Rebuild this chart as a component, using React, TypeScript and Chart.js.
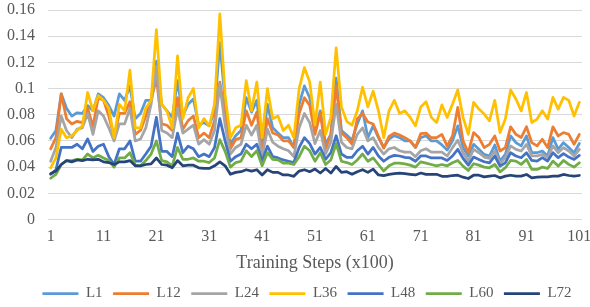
import React, { useEffect, useRef } from 'react';
import { Chart, registerables } from 'chart.js';

Chart.register(...registerables);

const steps: string[] = Array.from({ length: 101 }, (_, i) => String(i + 1));
const xTickLabels = ['1', '11', '21', '31', '41', '51', '61', '71', '81', '91', '101'];
const seriesNames = ['L1', 'L12', 'L24', 'L36', 'L48', 'L60', 'L72'];
const seriesColors = ['#5B9BD5', '#ED7D31', '#A5A5A5', '#FFC000', '#4472C4', '#70AD47', '#264478'];

const L1 = [
  0.062, 0.068, 0.096, 0.085, 0.079, 0.0815, 0.081, 0.087, 0.083, 0.096,
  0.093, 0.087, 0.079, 0.096, 0.091, 0.102, 0.077, 0.081, 0.091, 0.091,
  0.121, 0.088, 0.083, 0.078, 0.106, 0.079, 0.088, 0.092, 0.072, 0.074,
  0.0715, 0.083, 0.135, 0.09, 0.0575, 0.064, 0.068, 0.093, 0.082, 0.091,
  0.055, 0.088, 0.07, 0.066, 0.0625, 0.0625, 0.055, 0.088, 0.102, 0.093,
  0.068, 0.083, 0.0575, 0.065, 0.108, 0.068, 0.0645, 0.0605, 0.073, 0.083,
  0.0625, 0.0715, 0.0625, 0.055, 0.0615, 0.064, 0.0625, 0.06, 0.06, 0.055,
  0.0625, 0.064, 0.06, 0.06, 0.057, 0.053, 0.06, 0.0715, 0.055, 0.0485,
  0.0574, 0.0536, 0.0497, 0.0485, 0.0569, 0.0446, 0.0497, 0.0638, 0.0587, 0.0562,
  0.0638, 0.051, 0.051, 0.0523, 0.0485, 0.0626, 0.0536, 0.0587, 0.0549, 0.051, 0.058,
];
const L12 = [
  0.054, 0.0625, 0.096, 0.077, 0.073, 0.075, 0.074, 0.085, 0.071, 0.093,
  0.091, 0.079, 0.063, 0.081, 0.081, 0.09, 0.065, 0.068, 0.079, 0.091,
  0.108, 0.073, 0.072, 0.068, 0.093, 0.069, 0.0755, 0.079, 0.0625, 0.066,
  0.0625, 0.0755, 0.105, 0.08, 0.054, 0.061, 0.0625, 0.083, 0.072, 0.082,
  0.051, 0.077, 0.066, 0.0645, 0.06, 0.06, 0.055, 0.081, 0.093, 0.087,
  0.065, 0.081, 0.054, 0.065, 0.102, 0.066, 0.0625, 0.0575, 0.077, 0.081,
  0.0745, 0.073, 0.0635, 0.0545, 0.0635, 0.066, 0.0645, 0.0625, 0.06, 0.055,
  0.0655, 0.066, 0.0625, 0.0625, 0.065, 0.056, 0.0638, 0.0856, 0.06, 0.051,
  0.0664, 0.0626, 0.0549, 0.0574, 0.0638, 0.0523, 0.0549, 0.0708, 0.065, 0.0626,
  0.0708, 0.0587, 0.0562, 0.0613, 0.0549, 0.0708, 0.0638, 0.0664, 0.065, 0.0574, 0.065,
];
const L24 = [
  0.0445, 0.055, 0.079, 0.068, 0.0625, 0.069, 0.07, 0.081, 0.065, 0.083,
  0.079, 0.07, 0.06, 0.073, 0.073, 0.085, 0.06, 0.0615, 0.07, 0.088,
  0.117, 0.068, 0.066, 0.0625, 0.085, 0.066, 0.069, 0.072, 0.0575, 0.061,
  0.0575, 0.068, 0.103, 0.072, 0.05, 0.055, 0.0575, 0.072, 0.0645, 0.072,
  0.048, 0.069, 0.059, 0.056, 0.054, 0.0525, 0.048, 0.07, 0.081, 0.074,
  0.058, 0.068, 0.05, 0.059, 0.088, 0.059, 0.055, 0.054, 0.065, 0.07,
  0.06, 0.0625, 0.055, 0.05, 0.054, 0.055, 0.0525, 0.0515, 0.0515, 0.048,
  0.0525, 0.054, 0.0515, 0.0515, 0.0515, 0.0485, 0.0549, 0.0605, 0.051, 0.0446,
  0.0536, 0.051, 0.0477, 0.0467, 0.0523, 0.0426, 0.0472, 0.0562, 0.0536, 0.0523,
  0.0574, 0.0485, 0.0485, 0.0497, 0.0472, 0.0562, 0.051, 0.0549, 0.0523, 0.0485, 0.0536,
];
const L36 = [
  0.0395, 0.047, 0.069, 0.0625, 0.064, 0.068, 0.0715, 0.097, 0.083, 0.0946,
  0.091, 0.085, 0.0625, 0.088, 0.083, 0.114, 0.07, 0.07, 0.085, 0.091,
  0.145, 0.088, 0.083, 0.07, 0.125, 0.077, 0.093, 0.1, 0.07, 0.077,
  0.0715, 0.088, 0.157, 0.095, 0.0625, 0.07, 0.072, 0.106, 0.083, 0.105,
  0.0625, 0.1, 0.077, 0.079, 0.068, 0.072, 0.0625, 0.1, 0.116, 0.105,
  0.072, 0.105, 0.065, 0.078, 0.131, 0.086, 0.075, 0.072, 0.083, 0.101,
  0.086, 0.098, 0.083, 0.0625, 0.083, 0.091, 0.081, 0.083, 0.078, 0.0715,
  0.086, 0.09, 0.078, 0.074, 0.0875, 0.078, 0.088, 0.099, 0.078, 0.065,
  0.0895, 0.0843, 0.0805, 0.0754, 0.091, 0.0664, 0.0767, 0.099, 0.092, 0.083,
  0.097, 0.074, 0.0767, 0.083, 0.0767, 0.0933, 0.0843, 0.0933, 0.091, 0.079, 0.0895,
];
const L48 = [
  0.0345, 0.038, 0.055, 0.055, 0.055, 0.0575, 0.054, 0.0615, 0.052, 0.056,
  0.0575, 0.048, 0.042, 0.054, 0.054, 0.06, 0.0445, 0.0445, 0.05, 0.056,
  0.078, 0.052, 0.052, 0.048, 0.066, 0.051, 0.056, 0.054, 0.048, 0.05,
  0.048, 0.055, 0.077, 0.06, 0.0445, 0.048, 0.05, 0.0575, 0.054, 0.0575,
  0.0445, 0.056, 0.048, 0.047, 0.0455, 0.0445, 0.0435, 0.055, 0.0625, 0.058,
  0.05, 0.055, 0.046, 0.051, 0.064, 0.05, 0.0475, 0.0475, 0.0525, 0.056,
  0.05, 0.055, 0.0485, 0.0445, 0.0475, 0.049, 0.0485, 0.0475, 0.047, 0.0445,
  0.0485, 0.0485, 0.047, 0.047, 0.047, 0.045, 0.0485, 0.0536, 0.0467, 0.0415,
  0.0477, 0.0459, 0.0441, 0.0433, 0.0485, 0.0408, 0.0433, 0.051, 0.0485, 0.0472,
  0.051, 0.0451, 0.0446, 0.0472, 0.0446, 0.051, 0.0472, 0.0503, 0.0477, 0.0459, 0.049,
];
const L60 = [
  0.0315, 0.0345, 0.042, 0.045, 0.045, 0.046, 0.0455, 0.05, 0.047, 0.049,
  0.047, 0.045, 0.04, 0.047, 0.047, 0.051, 0.0415, 0.041, 0.045, 0.05,
  0.06, 0.045, 0.044, 0.041, 0.055, 0.046, 0.046, 0.047, 0.0445, 0.0445,
  0.0435, 0.047, 0.061, 0.052, 0.04, 0.0435, 0.0445, 0.0525, 0.048, 0.0525,
  0.041, 0.051, 0.046, 0.0455, 0.043, 0.043, 0.042, 0.048, 0.056, 0.0525,
  0.0445, 0.051, 0.042, 0.0455, 0.058, 0.0445, 0.0435, 0.042, 0.0455, 0.05,
  0.0445, 0.047, 0.042, 0.037, 0.041, 0.043, 0.043, 0.0425, 0.0415, 0.04,
  0.044, 0.043, 0.042, 0.041, 0.042, 0.041, 0.0433, 0.0451, 0.0408, 0.0374,
  0.0426, 0.0415, 0.04, 0.0395, 0.0421, 0.0364, 0.0395, 0.0451, 0.0446, 0.0421,
  0.0459, 0.0382, 0.0382, 0.04, 0.039, 0.0446, 0.0408, 0.0451, 0.0421, 0.04, 0.0433,
];
const L72 = [
  0.035, 0.037, 0.042, 0.045, 0.044, 0.0455, 0.045, 0.046, 0.0455, 0.046,
  0.044, 0.0435, 0.042, 0.044, 0.044, 0.045, 0.041, 0.041, 0.042, 0.0425,
  0.047, 0.042, 0.0415, 0.0395, 0.045, 0.041, 0.0415, 0.0415, 0.0395, 0.039,
  0.039, 0.041, 0.044, 0.041, 0.0345, 0.036, 0.0365, 0.038, 0.037, 0.038,
  0.034, 0.038, 0.036, 0.036, 0.034, 0.034, 0.033, 0.037, 0.038, 0.0365,
  0.0385, 0.0355, 0.039, 0.0355, 0.0405, 0.036, 0.0365, 0.0345, 0.0365, 0.038,
  0.036, 0.0385, 0.034, 0.0335, 0.0345, 0.035, 0.0355, 0.035, 0.0345, 0.034,
  0.0355, 0.0345, 0.0345, 0.0345, 0.033, 0.033, 0.0336, 0.0338, 0.0323, 0.0313,
  0.0338, 0.0338, 0.0326, 0.0331, 0.0336, 0.0318, 0.0331, 0.0338, 0.0331, 0.0331,
  0.0344, 0.0318, 0.0323, 0.0326, 0.0326, 0.0331, 0.0331, 0.0344, 0.0336, 0.0331, 0.0336,
];

const FONT = "'Liberation Serif', 'Times New Roman', serif";
const TEXT = '#595959';

const legendShift = {
  id: 'legendShift',
  afterLayout(chart: any) {
    if (chart.legend) {
      chart.legend.left += 16;
      chart.legend.right += 16;
    }
  },
};

export default function App() {
  const ref = useRef<HTMLCanvasElement>(null);
  useEffect(() => {
    document.body.style.margin = '0';
    const values = [L1, L12, L24, L36, L48, L60, L72];
    const chart = new Chart(ref.current as HTMLCanvasElement, {
      type: 'line',
      data: {
        labels: steps,
        datasets: values.map((v, i) => ({
          label: seriesNames[i],
          data: v,
          borderColor: seriesColors[i],
          backgroundColor: seriesColors[i],
          borderWidth: 2.75,
          pointRadius: 0,
          pointHoverRadius: 0,
          tension: 0,
          fill: false,
          order: values.length - i,
          borderJoinStyle: 'round' as const,
          borderCapStyle: 'round' as const,
        })),
      },
      plugins: [legendShift],
      options: {
        animation: false,
        responsive: false,
        maintainAspectRatio: false,
        layout: { padding: { top: 0, right: 8, bottom: -4, left: 0 } },
        plugins: {
          legend: {
            position: 'bottom',
            labels: {
              usePointStyle: true,
              pointStyle: 'line',
              pointStyleWidth: 36,
              padding: 10.5,
              color: TEXT,
              font: { family: FONT, size: 15 },
              sort: (a: any, b: any) => a.datasetIndex - b.datasetIndex,
            },
          },
          tooltip: { enabled: false },
        },
        scales: {
          x: {
            type: 'category',
            offset: true,
            grid: { display: false, drawTicks: false },
            border: { display: false },
            afterFit: (s: any) => {
              s.height = 56;
              s.paddingLeft = 0;
              s.paddingRight = 0;
            },
            ticks: {
              autoSkip: false,
              maxRotation: 0,
              minRotation: 0,
              padding: 8,
              color: TEXT,
              font: { family: FONT, size: 16 },
              callback: (_v: any, index: number) => (xTickLabels.includes(steps[index]) ? steps[index] : ''),
            },
            title: {
              display: true,
              text: 'Training Steps (x100)',
              color: TEXT,
              font: { family: FONT, size: 18 },
              padding: { top: 0, bottom: 1 },
            },
          },
          y: {
            min: 0,
            max: 0.16,
            afterFit: (s: any) => {
              s.width = 48;
              s.paddingTop = 10;
              s.paddingBottom = 0;
            },
            grid: { color: '#D9D9D9', lineWidth: 1, drawTicks: false },
            border: { display: false },
            ticks: {
              stepSize: 0.02,
              autoSkip: false,
              padding: 13,
              color: TEXT,
              font: { family: FONT, size: 16 },
              callback: (v: any) => String(Number(Number(v).toFixed(2))),
            },
          },
        },
      },
    });
    return () => chart.destroy();
  }, []);
  return <canvas ref={ref} width={590} height={307} style={{ display: 'block' }} />;
}
